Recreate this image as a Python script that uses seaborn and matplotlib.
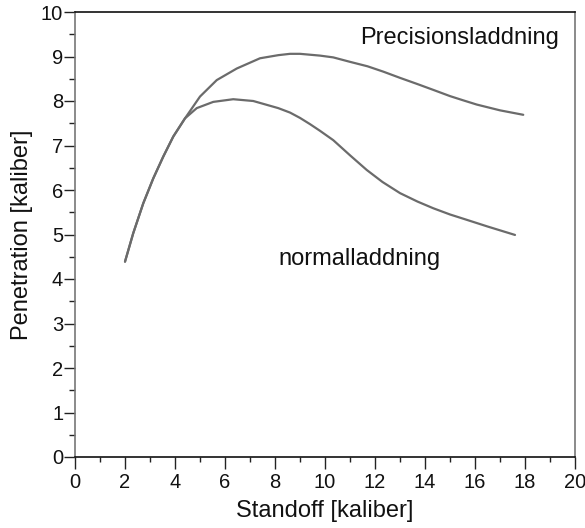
import matplotlib
matplotlib.use("Agg")
import matplotlib.pyplot as plt
from matplotlib.ticker import MultipleLocator
import seaborn as sns
import pandas as pd

# Data
prec_x = [2.0, 2.33, 2.73, 3.13, 3.53, 3.93, 4.4, 5.0, 5.67, 6.47, 7.4, 8.13, 8.6, 9.0, 9.8,
          10.33, 11.0, 11.7, 12.33, 13.0, 13.7, 14.33, 15.0, 15.5, 16.07, 17.0, 17.93]
prec_y = [4.39, 5.03, 5.70, 6.26, 6.75, 7.20, 7.61, 8.10, 8.47, 8.73, 8.96, 9.03, 9.06, 9.06, 9.02,
          8.98, 8.88, 8.78, 8.66, 8.52, 8.38, 8.25, 8.11, 8.02, 7.92, 7.79, 7.69]
norm_x = [2.0, 2.33, 2.73, 3.13, 3.53, 3.93, 4.4, 4.87, 5.53, 6.33, 7.13, 8.13, 8.6, 9.0, 9.4,
          9.8, 10.33, 11.0, 11.67, 12.3, 13.0, 13.7, 14.33, 15.0, 15.67, 16.5, 17.6]
norm_y = [4.39, 5.03, 5.70, 6.26, 6.75, 7.20, 7.61, 7.84, 7.98, 8.04, 8.0, 7.84, 7.74, 7.62, 7.48,
          7.33, 7.12, 6.78, 6.45, 6.18, 5.93, 5.74, 5.59, 5.45, 5.33, 5.18, 4.99]
series_names = ["Precisionsladdning", "normalladdning"]
x_label = "Standoff [kaliber]"
y_label = "Penetration [kaliber]"

df = pd.concat([
    pd.DataFrame({"x": prec_x, "y": prec_y, "s": series_names[0]}),
    pd.DataFrame({"x": norm_x, "y": norm_y, "s": series_names[1]}),
])

sns.set_style("ticks")
plt.rcParams["font.family"] = ["Liberation Sans", "DejaVu Sans"]

fig = plt.figure(figsize=(5.85, 5.28), dpi=100)
ax = fig.add_axes([75 / 585, 1 - 457 / 528, 500 / 585, 445 / 528])
line_color = "#6b6b6b"
sns.lineplot(data=df, x="x", y="y", hue="s", units="s", estimator=None, sort=False,
             palette=[line_color, line_color], linewidth=1.6, legend=False, ax=ax)
for ln in ax.lines:
    ln.set_solid_joinstyle("round")

ax.set_xlim(0, 20)
ax.set_ylim(0, 10)
ax.xaxis.set_major_locator(MultipleLocator(2))
ax.xaxis.set_minor_locator(MultipleLocator(1))
ax.yaxis.set_major_locator(MultipleLocator(1))
ax.yaxis.set_minor_locator(MultipleLocator(0.5))
ax.tick_params(axis="both", which="major", labelsize=14.5, colors="#222222", labelcolor="#111111")
ax.tick_params(axis="x", which="major", direction="out", length=8.5, width=1, pad=3)
ax.tick_params(axis="x", which="minor", direction="out", length=3.5, width=1, color="#222222")
ax.tick_params(axis="y", which="major", direction="out", length=8, width=1, pad=0.5)
ax.tick_params(axis="y", which="minor", direction="out", length=4.5, width=1, color="#222222")

for side in ["top", "bottom"]:
    ax.spines[side].set_visible(True)
    ax.spines[side].set_color("#111111")
for side in ["left", "right"]:
    ax.spines[side].set_visible(True)
    ax.spines[side].set_color("#777777")
for sp in ax.spines.values():
    sp.set_linewidth(1.2)

ax.set_xlabel(x_label, fontsize=17, labelpad=6, color="#111111")
ax.set_ylabel(y_label, fontsize=17, labelpad=6, color="#111111")

ax.text(11.4, 9.28, series_names[0], fontsize=17, va="baseline", ha="left", color="#111111")
ax.text(8.12, 4.31, series_names[1], fontsize=17, va="baseline", ha="left", color="#111111")

fig.savefig("out.png", dpi=100)
